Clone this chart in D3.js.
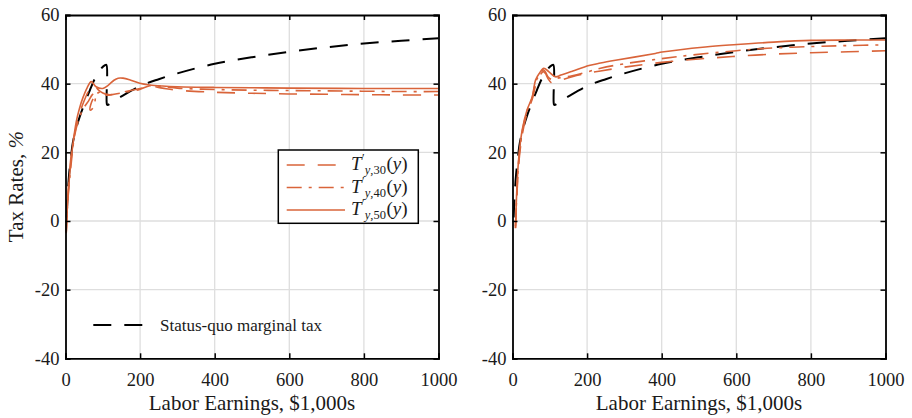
<!DOCTYPE html>
<html><head><meta charset="utf-8">
<script src="https://cdn.jsdelivr.net/npm/d3@7"></script>
<style>body{margin:0;background:#fff}</style>
</head><body>
<svg id="c" width="912" height="418"></svg>
<script>
// ---- data ----
const xTicks = [0, 200, 400, 600, 800, 1000];
const yTicks = [-40, -20, 0, 20, 40, 60];
const statusQuo = [[3,1],[6,8],[10,14],[15,19],[20,23],[30,27.5],[40,31],[52,34.5],[65,38],[79,41.5],[95,44.3],[105,45.3],[109.5,45.5],[111,34],[113,33.8],[130,35],[150,36.3],[200,39.3],[250,41.3],[300,43],[400,45.8],[500,47.7],[600,49.3],[700,50.6],[800,51.7],[900,52.5],[1000,53.2]];
const left30 = [[2,-3],[5,5],[10,13],[15,19],[20,23],[30,28],[40,32],[50,35],[60,37.5],[70,39.3],[78,39.5],[88,38.2],[100,37.3],[115,36.8],[135,37],[165,37.8],[200,38.6],[230,39.2],[260,38.7],[300,38.1],[400,37.5],[500,37.2],[600,37],[700,36.9],[800,36.8],[900,36.7],[1000,36.7]];
const left40 = [[2,-3.2],[5,4],[10,11],[15,16.5],[24,24.6],[38,30.4],[51,33.3],[62,35],[72,36.8],[78,37.2],[80,35.8],[74,33],[66,32.3],[68,34],[78,36.3],[90,37.5],[100,37.8],[109,36.7],[125,36.8],[145,37.2],[175,37.8],[199,38.3],[226,39.4],[260,39.2],[300,38.7],[400,38.3],[500,38.1],[600,38],[700,37.9],[800,37.8],[900,37.7],[1000,37.7]];
const left50 = [[2,-3.6],[5,4],[10,12],[15,17.8],[20,22.5],[29,29],[38,33],[47,36],[58,38.8],[69,40.6],[82,39.1],[100,38.6],[115,39.6],[130,41],[141,41.6],[154,41.6],[175,41],[199,40.1],[226,39.6],[260,39.3],[300,39.1],[400,38.9],[500,38.8],[600,38.7],[800,38.6],[1000,38.6]];
const right30 = [[8,-1.5],[12,8],[17,17],[26,25],[39,31.5],[53,35.5],[62,39.5],[72,42],[82,43.5],[88,43],[95,41.5],[105,40.2],[115,40.5],[160,42],[200,43],[236,43.7],[300,44.8],[400,46.2],[500,47.2],[590,47.9],[700,48.6],[800,49],[900,49.3],[1000,49.6]];
const right40 = [[8,-2],[12,9],[17,18],[26,26],[39,32],[53,36],[62,40.5],[72,42.5],[82,44],[88,43.5],[95,42],[105,41.2],[115,41.5],[160,42.3],[200,43.4],[236,44.5],[300,45.8],[400,47.3],[477,48.3],[600,49.6],[683,50.3],[800,50.8],[900,51.1],[1000,51.3]];
const right50 = [[8,-2.1],[12,10],[17,18.7],[26,26.5],[39,32.3],[53,36.2],[62,41.1],[72,43],[84,44.5],[97,43.5],[115,42],[130,42.5],[160,43.6],[205,45.3],[236,46],[276,46.8],[383,48.8],[401,49.2],[517,50.7],[602,51.4],[700,52.1],[800,52.6],[900,52.7],[1000,52.7]];
const legendLabels = ["30", "40", "50"];
const statusLabel = "Status-quo marginal tax";
const xLabel = "Labor Earnings, $1,000s";

// ---- drawing ----
const svg = d3.select("#c");
const FONT = "Liberation Serif";
const ORANGE = "#D9643A";
const yTop = 15, yBot = 358.3;
const panels = [
  {x0: 65.5, x1: 438.5, s: [left30, left40, left50], legend: true, ylabel: true},
  {x0: 512.5, x1: 885.5, s: [right30, right40, right50], legend: false, ylabel: false}
];
const styles = [
  {dash: "18,13", w: 1.6},
  {dash: "15,7,3,7", w: 1.6},
  {dash: null, w: 1.6}
];
const fmt = d => String(d);

panels.forEach(p => {
  const x = d3.scaleLinear().domain([0, 1000]).range([p.x0, p.x1]);
  const y = d3.scaleLinear().domain([-40, 60]).range([yBot, yTop]);
  const g = svg.append("g");
  g.selectAll(".gx").data(xTicks.slice(1, -1)).join("line")
    .attr("x1", d => x(d)).attr("x2", d => x(d)).attr("y1", yTop).attr("y2", yBot)
    .attr("stroke", "#dedede").attr("stroke-width", 1.3);
  g.selectAll(".gy").data(yTicks.slice(1, -1)).join("line")
    .attr("y1", d => y(d)).attr("y2", d => y(d)).attr("x1", p.x0).attr("x2", p.x1)
    .attr("stroke", "#dedede").attr("stroke-width", 1.3);

  const line = d3.line().x(d => x(d[0])).y(d => y(d[1])).curve(d3.curveCatmullRom.alpha(0.5));
  g.append("path").datum(statusQuo).attr("d", line).attr("fill", "none")
    .attr("stroke", "#000").attr("stroke-width", 2).attr("stroke-dasharray", "18,13");
  p.s.forEach((s, i) => {
    g.append("path").datum(s).attr("d", line).attr("fill", "none")
      .attr("stroke", ORANGE).attr("stroke-width", styles[i].w)
      .attr("stroke-dasharray", styles[i].dash);
  });

  const fs = "18.5px";
  const ax = g.append("g").attr("transform", `translate(0,${yBot})`)
    .call(d3.axisBottom(x).tickValues(xTicks).tickSize(-5).tickPadding(15).tickFormat(fmt));
  const ay = g.append("g").attr("transform", `translate(${p.x0},0)`)
    .call(d3.axisLeft(y).tickValues(yTicks).tickSize(-5).tickPadding(6).tickFormat(fmt));
  const at = g.append("g").attr("transform", `translate(0,${yTop})`)
    .call(d3.axisTop(x).tickValues(xTicks).tickSize(-5).tickFormat(""));
  const ar = g.append("g").attr("transform", `translate(${p.x1},0)`)
    .call(d3.axisRight(y).tickValues(yTicks).tickSize(-5).tickFormat(""));
  [ax, ay, at, ar].forEach(a => {
    a.attr("font-family", FONT);
    a.select(".domain").attr("stroke", "#000").attr("stroke-width", 1.8);
    a.selectAll(".tick line").attr("stroke", "#000").attr("stroke-width", 1.5);
    a.selectAll("text").attr("font-family", FONT).attr("font-size", fs).attr("fill", "#1a1a1a");
  });

  g.append("text").attr("x", (p.x0 + p.x1) / 2).attr("y", 410)
    .attr("text-anchor", "middle").attr("font-family", FONT).attr("font-size", "21px")
    .attr("fill", "#1a1a1a").text(xLabel);

  if (p.ylabel) {
    const t = g.append("text").attr("transform", `translate(23,${(yTop + yBot) / 2}) rotate(-90)`)
      .attr("text-anchor", "middle").attr("font-family", FONT).attr("font-size", "21px").attr("fill", "#1a1a1a");
    t.append("tspan").text("Tax Rates, ");
    t.append("tspan").attr("font-style", "italic").text("%");
  }

  if (p.legend) {
    const lg = g.append("g");
    lg.append("rect").attr("x", 278.3).attr("y", 150).attr("width", 140).attr("height", 73.3)
      .attr("fill", "#fff").attr("stroke", "#000").attr("stroke-width", 1.5);
    legendLabels.forEach((lab, i) => {
      const yy = 165 + i * 22.5;
      lg.append("line").attr("x1", 286.7).attr("x2", 345).attr("y1", yy).attr("y2", yy)
        .attr("stroke", ORANGE).attr("stroke-width", 1.6).attr("stroke-dasharray", styles[i].dash);
      const t = lg.append("text").attr("x", 351).attr("y", yy + 5)
        .attr("font-family", FONT).attr("fill", "#1a1a1a").attr("font-size", "19px");
      t.append("tspan").attr("font-style", "italic").text("T");
      t.append("tspan").attr("font-size", "12px").attr("dx", 0.5).attr("dy", -8).text("′");
      t.append("tspan").attr("font-size", "12.5px").attr("font-style", "italic").attr("dy", 12).text("y");
      t.append("tspan").attr("font-size", "12.5px").text("," + lab);
      t.append("tspan").attr("dx", 0.5).attr("dy", -4).text("(");
      t.append("tspan").attr("font-style", "italic").text("y");
      t.append("tspan").text(")");
    });
    g.append("line").attr("x1", 93.3).attr("x2", 145).attr("y1", 325).attr("y2", 325)
      .attr("stroke", "#000").attr("stroke-width", 2).attr("stroke-dasharray", "18,13");
    g.append("text").attr("x", 160).attr("y", 331).attr("font-family", FONT).attr("font-size", "17px")
      .attr("fill", "#1a1a1a").text(statusLabel);
  }
});
</script>
</body></html>
